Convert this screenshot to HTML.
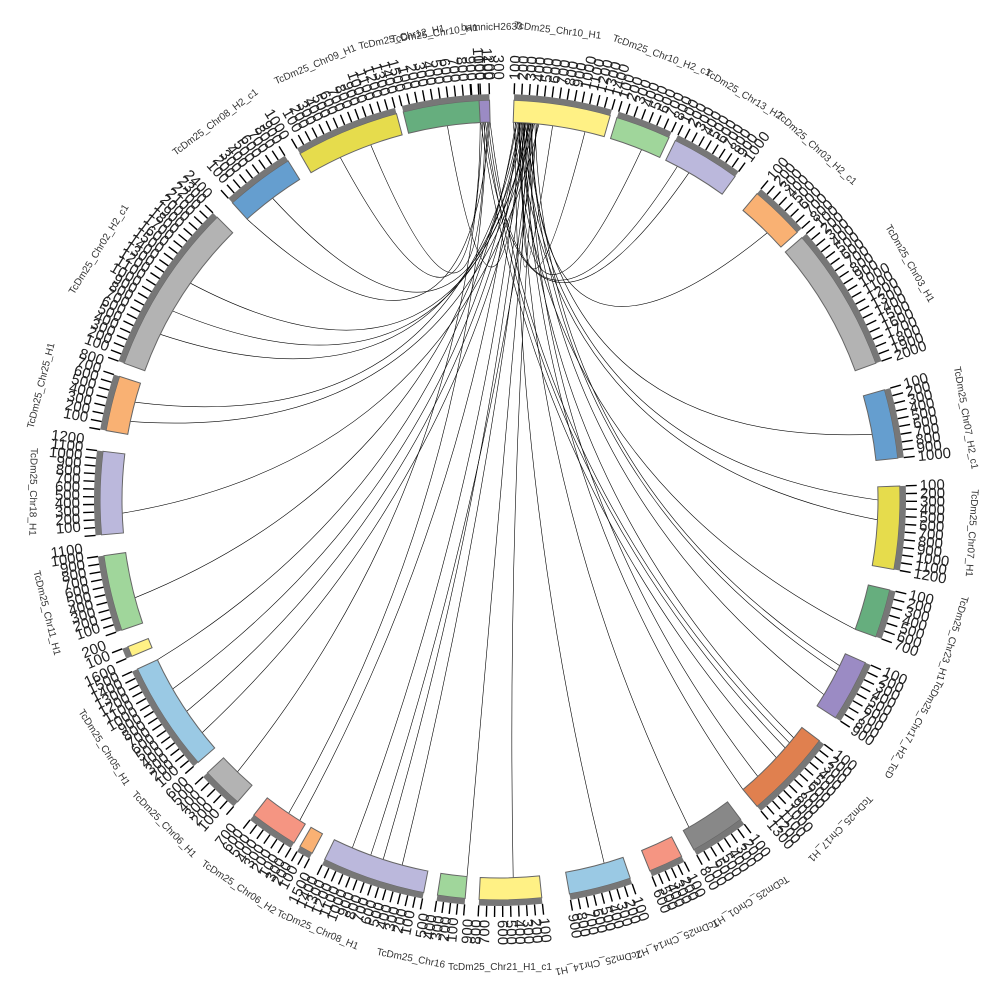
<!DOCTYPE html>
<html><head><meta charset="utf-8"><style>
html,body{margin:0;padding:0;background:#fff;width:1000px;height:1000px;overflow:hidden}
svg{display:block}
text{font-family:"Liberation Sans",sans-serif}
</style></head><body>
<svg id="s" width="1000" height="1000" viewBox="0 0 1000 1000" xmlns="http://www.w3.org/2000/svg">
<g id="links" fill="none" stroke="#000" stroke-width="0.6"></g>
<g id="blocks"></g>
<g id="labels" font-size="10" fill="#333">
<text transform="rotate(-8 500 500) translate(500 32)" text-anchor="middle">TcDm25_Chr10_H1</text>
<text transform="rotate(-12 500 500) translate(500 30)" text-anchor="middle">TcDm25_Chr12_H1</text>
<text transform="rotate(-1 500 500) translate(500 30)" text-anchor="middle">bamnicH2633</text>
<text transform="rotate(7 500 500) translate(500 30)" text-anchor="middle">TcDm25_Chr10_H1</text>
<text transform="rotate(20 500 500) translate(500 30)" text-anchor="middle">TcDm25_Chr10_H2_c1</text>
<text transform="rotate(31 500 500) translate(500 30)" text-anchor="middle">TcDm25_Chr13_H2</text>
<text transform="rotate(42 500 500) translate(500 30)" text-anchor="middle">TcDm25_Chr03_H2_c1</text>
<text transform="rotate(60 500 500) translate(500 30)" text-anchor="middle">TcDm25_Chr03_H1</text>
<text transform="rotate(80 500 500) translate(500 30)" text-anchor="middle">TcDm25_Chr07_H2_c1</text>
<text transform="rotate(94 500 500) translate(500 30)" text-anchor="middle">TcDm25_Chr07_H1</text>
<text transform="rotate(107 500 500) translate(500 30)" text-anchor="middle">TcDm25_Chr23_H1</text>
<text transform="rotate(119 500 500) translate(500 30)" text-anchor="middle">TcDm25_Chr17_H2_TcD</text>
<text transform="rotate(134 500 500) translate(500 30)" text-anchor="middle">TcDm25_Chr17_H1</text>
<text transform="rotate(148 500 500) translate(500 30)" text-anchor="middle">TcDm25_Chr01_H1</text>
<text transform="rotate(158 500 500) translate(500 30)" text-anchor="middle">TcDm25_Chr14_H2</text>
<text transform="rotate(168 500 500) translate(500 30)" text-anchor="middle">TcDm25_Chr14_H1</text>
<text transform="rotate(180 500 500) translate(500 30) rotate(180)" text-anchor="middle">TcDm25_Chr21_H1_c1</text>
<text transform="rotate(191 500 500) translate(500 30) rotate(180)" text-anchor="middle">TcDm25_Chr16</text>
<text transform="rotate(203 500 500) translate(500 30) rotate(180)" text-anchor="middle">TcDm25_Chr08_H1</text>
<text transform="rotate(214 500 500) translate(500 30) rotate(180)" text-anchor="middle">TcDm25_Chr06_H2</text>
<text transform="rotate(226 500 500) translate(500 30) rotate(180)" text-anchor="middle">TcDm25_Chr06_H1</text>
<text transform="rotate(238 500 500) translate(500 30) rotate(180)" text-anchor="middle">TcDm25_Chr05_H1</text>
<text transform="rotate(256 500 500) translate(500 30) rotate(180)" text-anchor="middle">TcDm25_Chr11_H1</text>
<text transform="rotate(271 500 500) translate(500 30) rotate(180)" text-anchor="middle">TcDm25_Chr18_H1</text>
<text transform="rotate(284 500 500) translate(500 30)" text-anchor="middle">TcDm25_Chr25_H1</text>
<text transform="rotate(302 500 500) translate(500 30)" text-anchor="middle">TcDm25_Chr02_H2_c1</text>
<text transform="rotate(323 500 500) translate(500 30)" text-anchor="middle">TcDm25_Chr08_H2_c1</text>
<text transform="rotate(337 500 500) translate(500 30)" text-anchor="middle">TcDm25_Chr09_H1</text>
</g>
</svg>
<script>
var NS="http://www.w3.org/2000/svg",cx=500,cy=500;
function P(a,r){var t=(a-90)*Math.PI/180;return [cx+r*Math.cos(t),cy+r*Math.sin(t)];}
function arc(a1,a2,r1,r2){var p1=P(a1,r2),p2=P(a2,r2),p3=P(a2,r1),p4=P(a1,r1),l=(a2-a1)>180?1:0;
return "M"+p1+" A"+r2+" "+r2+" 0 "+l+" 1 "+p2+" L"+p3+" A"+r1+" "+r1+" 0 "+l+" 0 "+p4+"Z";}
function el(n,a,par){var e=document.createElementNS(NS,n);for(var k in a)e.setAttribute(k,a[k]);par.appendChild(e);return e;}
var segs=[[-4,-1.5,"#9b8bc4"],[2,16,"#fff185"],[17,25,"#a0d69b"],[26,36,"#bbb8dc"],[40,48,"#f9b173"],[49,70,"#b3b3b3"],
[74,84,"#659ecf"],[88,100,"#e6dc4c"],[103,110,"#66ae7e"],[114,123,"#9b8bc4"],[127,140,"#e0804f"],[143,151,"#888888"],
[153,158,"#f59582"],[161,170,"#9ac9e4"],[174,183,"#fff185"],[185,189,"#a0d69b"],[191,206,"#bbb8dc"],[208,210,"#f9b173"],
[211,218,"#f59582"],[221,227,"#b3b3b3"],[229,245,"#9ac9e4"],[247,248.5,"#fff185"],[251,262,"#a0d69b"],[265,277,"#bbb8dc"],
[280,288,"#f9b173"],[290,315,"#b3b3b3"],[318,328,"#659ecf"],[330,345,"#e6dc4c"],[346,357,"#66ae7e"]];
var B=document.getElementById("blocks");
segs.forEach(function(s){
 el("path",{d:arc(s[0],s[1],378,400),fill:s[2],stroke:"#666","stroke-width":1},B);
 el("path",{d:arc(s[0],s[1],400,406),fill:"#777"},B);
 var n=Math.max(1,Math.round((s[1]-s[0])/1.1)),i;
 for(i=0;i<=n;i++){var a=s[0]+(s[1]-s[0])*i/n,p=P(a,406),q=P(a,417);
  el("line",{x1:p[0],y1:p[1],x2:q[0],y2:q[1],stroke:"#000","stroke-width":1.4},B);
  var aa=(a+360)%360,t;
  if(aa>180&&aa<360) t=el("text",{"font-size":15,fill:"#222","text-anchor":"end",transform:"rotate("+a+" 500 500) translate(505 80) rotate(90)"},B);
  else t=el("text",{"font-size":15,fill:"#222",transform:"rotate("+a+" 500 500) translate(505 80) rotate(-90)"},B);
  t.textContent=String((i+1)*100);}
});
var L=document.getElementById("links");
var ends=[335,340,318,323,296,300,282,268,255,240,236,232,224,214,212,203,198,195,178,164,150,140,137,133,131,130,129,121,117,116,110,93,90,80,45,30,28,22,13,8,185,200,245,285,352,305];
ends.forEach(function(a,i){
 var e=-3+((i*7)%80)/10; if(e>-1.5&&e<2)e+=4;
 var p=P(a,378),q=P(e,378),k=0.12;
 var c=[cx+(p[0]+q[0]-2*cx)*k,cy+(p[1]+q[1]-2*cy)*k];
 el("path",{d:"M"+p+" Q"+c+" "+q},L);
});
</script>
</body></html>
